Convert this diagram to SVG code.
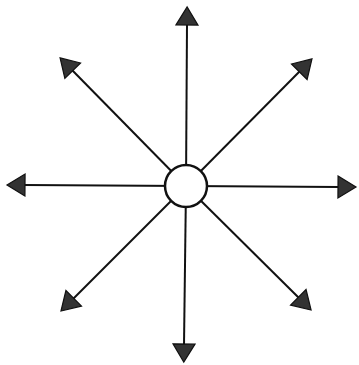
<svg xmlns="http://www.w3.org/2000/svg" width="359" height="365" viewBox="0 0 359 365">
<defs>
<style>
.conn line{stroke:#111;stroke-width:2;fill:none;marker-end:url(#ah)}
.hub{fill:#fff;stroke:#111;stroke-width:2.5}
</style>
<marker id="ah" markerUnits="userSpaceOnUse" viewBox="0 0 18 22" refX="1" refY="11" markerWidth="18" markerHeight="22" orient="auto" overflow="visible">
<path d="M0,0 L18,11 L0,22 Z" fill="#333" stroke="#111" stroke-width="1.2" stroke-linejoin="miter"/>
</marker>
</defs>
<rect width="359" height="365" fill="#fff"/>
<g id="connectors" class="conn">
<line x1="186" y1="186" x2="187" y2="24"/>
<line x1="186" y1="186" x2="184" y2="345"/>
<line x1="186" y1="186" x2="24" y2="185"/>
<line x1="186" y1="186" x2="339" y2="187"/>
<line x1="186" y1="186" x2="72" y2="70"/>
<line x1="186" y1="186" x2="300" y2="71"/>
<line x1="186" y1="186" x2="73" y2="299"/>
<line x1="186" y1="186" x2="299" y2="298"/>
</g>
<g id="hub">
<circle class="hub" cx="186" cy="186" r="21"/>
</g>
</svg>
